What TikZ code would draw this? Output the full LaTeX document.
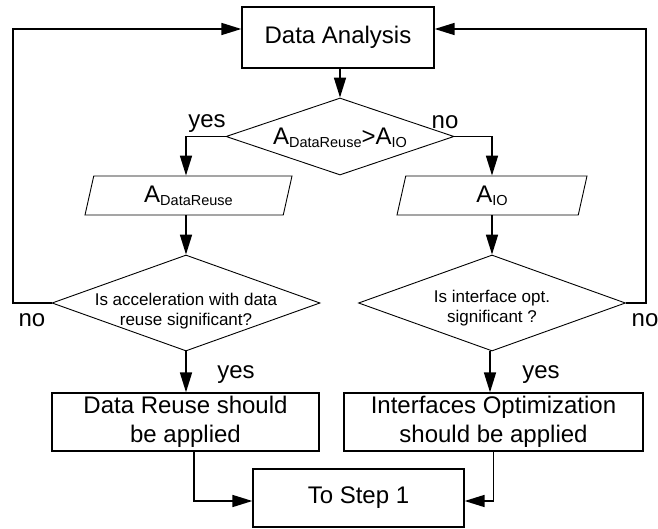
\documentclass[tikz,border=0pt]{standalone}
\usepackage{fontspec}
\setmainfont{Liberation Sans}
\usetikzlibrary{arrows.meta,shapes.geometric}

% subscript set slightly below the baseline
\newcommand\lowsub[1]{{\fontsize{14.5}{15}\selectfont\raisebox{-3pt}{#1}}}

\begin{document}
\begin{tikzpicture}[x=1pt,y=-1pt,
  every node/.style={font=\fontsize{24}{29}\selectfont},
  procbox/.style={draw, line width=1.3pt, inner sep=0pt, align=center,
    minimum width=#1, minimum height=58pt},
  procbox/.default=200pt,
  decision/.style={draw, shape=diamond, line width=0.9pt, inner sep=0pt,
    minimum width=#1, minimum height=96pt},
  decision/.default=268pt,
  ioshape/.style={draw, shape=trapezium, trapezium left angle=66,
    trapezium right angle=114, trapezium stretches body, line width=0.9pt,
    inner sep=0pt, minimum width=#1, minimum height=39pt},
  ioshape/.default=190pt,
  question/.style={font=\fontsize{17}{19.5}\selectfont, align=center},
  conn/.style={line width=1.7pt, -{Triangle[length=20pt,width=12pt]}},
  lbl/.style={anchor=base, inner sep=0pt}
]
\useasboundingbox (0,0) rectangle (658,529);
\fill[white] (0,0) rectangle (658,529);

% boxes
\node[procbox=192pt, minimum height=61pt] (da) at (338,37.5) {Data Analysis};
\node[decision=228pt, minimum height=77pt] (d1) at (340,136.5) {};
\node at ([yshift=-1pt]d1.center) {A\lowsub{DataReuse}>A\lowsub{IO}};

\node[ioshape=207pt] (p1) at (188.5,195.5) {A\lowsub{DataReuse}};
\node[ioshape=190pt] (p2) at (492,195.5) {A\lowsub{IO}};

\node[decision=268pt] (d2) at (186,303) {};
\node[question] at ([yshift=-8pt]d2.center) {Is acceleration with data\\reuse significant?};
\node[decision=267pt] (d3) at (492,303) {};
\node[question] at ([yshift=-5pt]d3.center) {Is interface opt.\\significant ?};

\node[procbox=267pt] (b1) at (185.5,422) {Data Reuse should\\be applied};
\node[procbox=299pt] (b2) at (493.5,422) {Interfaces Optimization\\should be applied};
\node[procbox=211pt] (ts) at (358.5,498) {To Step 1};

% loop-back corners
\coordinate (lc) at (13,303);
\coordinate (rc) at (646,303);

% connectors
\draw[conn] (da.south -| d1.north) -- (d1.north);
\draw[conn] (d1.west) -| (d2.north |- p1.north);
\draw[conn] (d1.east) -| (d3.north |- p2.north);
\draw[conn] (d2.north |- p1.south) -- (d2.north);
\draw[conn] (d3.north |- p2.south) -- (d3.north);
\draw[conn] (d2.south) -- (d2.south |- b1.north);
\draw[conn] ([xshift=-2pt]d3.south) -- ([xshift=-2pt]d3.south |- b2.north);
\draw[conn] (d2.west) -- (lc) |- ([yshift=8.5pt]da.west);
\draw[conn] (d3.east) -- (rc) |- ([yshift=8.5pt]da.east);
\draw[conn] ([xshift=8.5pt]b1.south) |- ([yshift=-3pt]ts.west);
\draw[conn] (b2.south) |- ([yshift=-3pt]ts.east);

% branch labels
\node[lbl] (y1) at (207,128) {yes};
\node[lbl] (n1) at (445,129) {no};
\node[lbl] (n2) at (32,326) {no};
\node[lbl] (n3) at (645,326) {no};
\node[lbl] (y2) at (236,378) {yes};
\node[lbl] (y3) at (541,378) {yes};
\end{tikzpicture}
\end{document}
